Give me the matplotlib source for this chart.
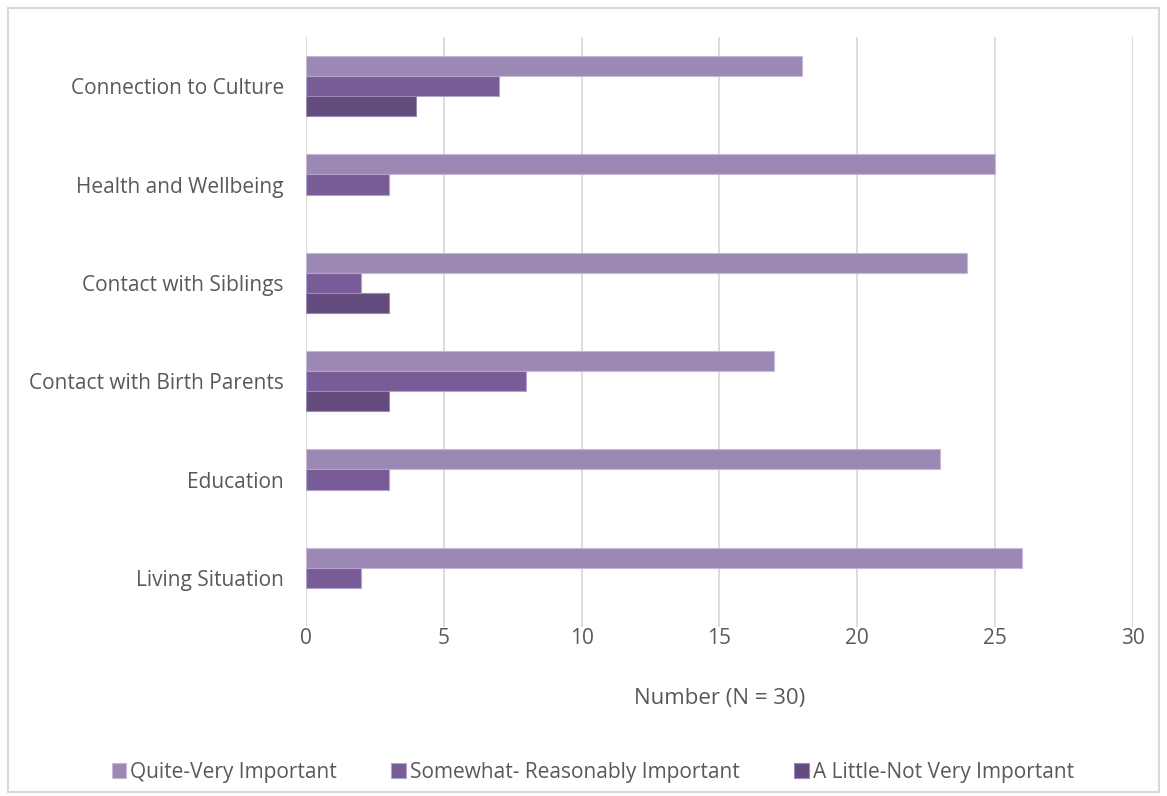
import numpy as np
import matplotlib
matplotlib.use('Agg')
import matplotlib.pyplot as plt
from matplotlib.patches import Rectangle

plt.rcParams['font.family'] = ['Open Sans', 'DejaVu Sans']

categories = ['Connection to Culture', 'Health and Wellbeing', 'Contact with Siblings',
              'Contact with Birth Parents', 'Education', 'Living Situation']
series_names = ['Quite-Very Important', 'Somewhat- Reasonably Important', 'A Little-Not Very Important']
quite = [18, 25, 24, 17, 23, 26]
somewhat = [7, 3, 2, 8, 3, 2]
little = [4, 0, 3, 3, 0, 0]
colors = ['#9b88b4', '#775c98', '#634c7d']
edges = ['#c7b9d6', '#b3a2c9', '#9d89b6']

fig = plt.figure(figsize=(11.67, 7.96), dpi=100)
ax = fig.add_axes([0.2622, 0.2123, 0.9705 - 0.2622, 0.9535 - 0.2123])

n = len(categories)
y = np.arange(n)[::-1].astype(float)  # top category first
h = 0.204
for i, (vals, c, ec, name) in enumerate(zip([quite, somewhat, little], colors, edges, series_names)):
    lw = [0.8 if v > 0 else 0 for v in vals]
    ax.barh(y + (1 - i) * h, vals, height=h, color=c, edgecolor=ec, linewidth=lw,
            label=name, zorder=3)

ax.set_xlim(0, 30)
ax.set_ylim(-0.5, n - 0.5)
ax.set_xticks(range(0, 31, 5))
ax.set_yticks(y)
ax.set_yticklabels(categories)
ax.tick_params(length=0, labelsize=15, colors='#595959')
ax.tick_params(axis='y', pad=16)
ax.tick_params(axis='x', pad=1)
ax.grid(axis='x', color='#d9d9d9', linewidth=1.3, zorder=0)
for s in ax.spines.values():
    s.set_visible(False)
ax.set_xlabel('Number (N = 30)', fontsize=16, color='#595959', labelpad=28)

leg = fig.legend(loc='lower center', bbox_to_anchor=(0.508, -0.007), ncol=3, frameon=False,
                 fontsize=15, handlelength=0.7, handleheight=0.7, handletextpad=0.2,
                 columnspacing=2.6, labelcolor='#595959')

fig.patches.append(Rectangle((8 / 1167, 4 / 796), 1 - 16 / 1167, 1 - 12 / 796,
                             transform=fig.transFigure, fill=False,
                             edgecolor='#d9d9d9', linewidth=1.5))

fig.savefig('out.png', dpi=100)
